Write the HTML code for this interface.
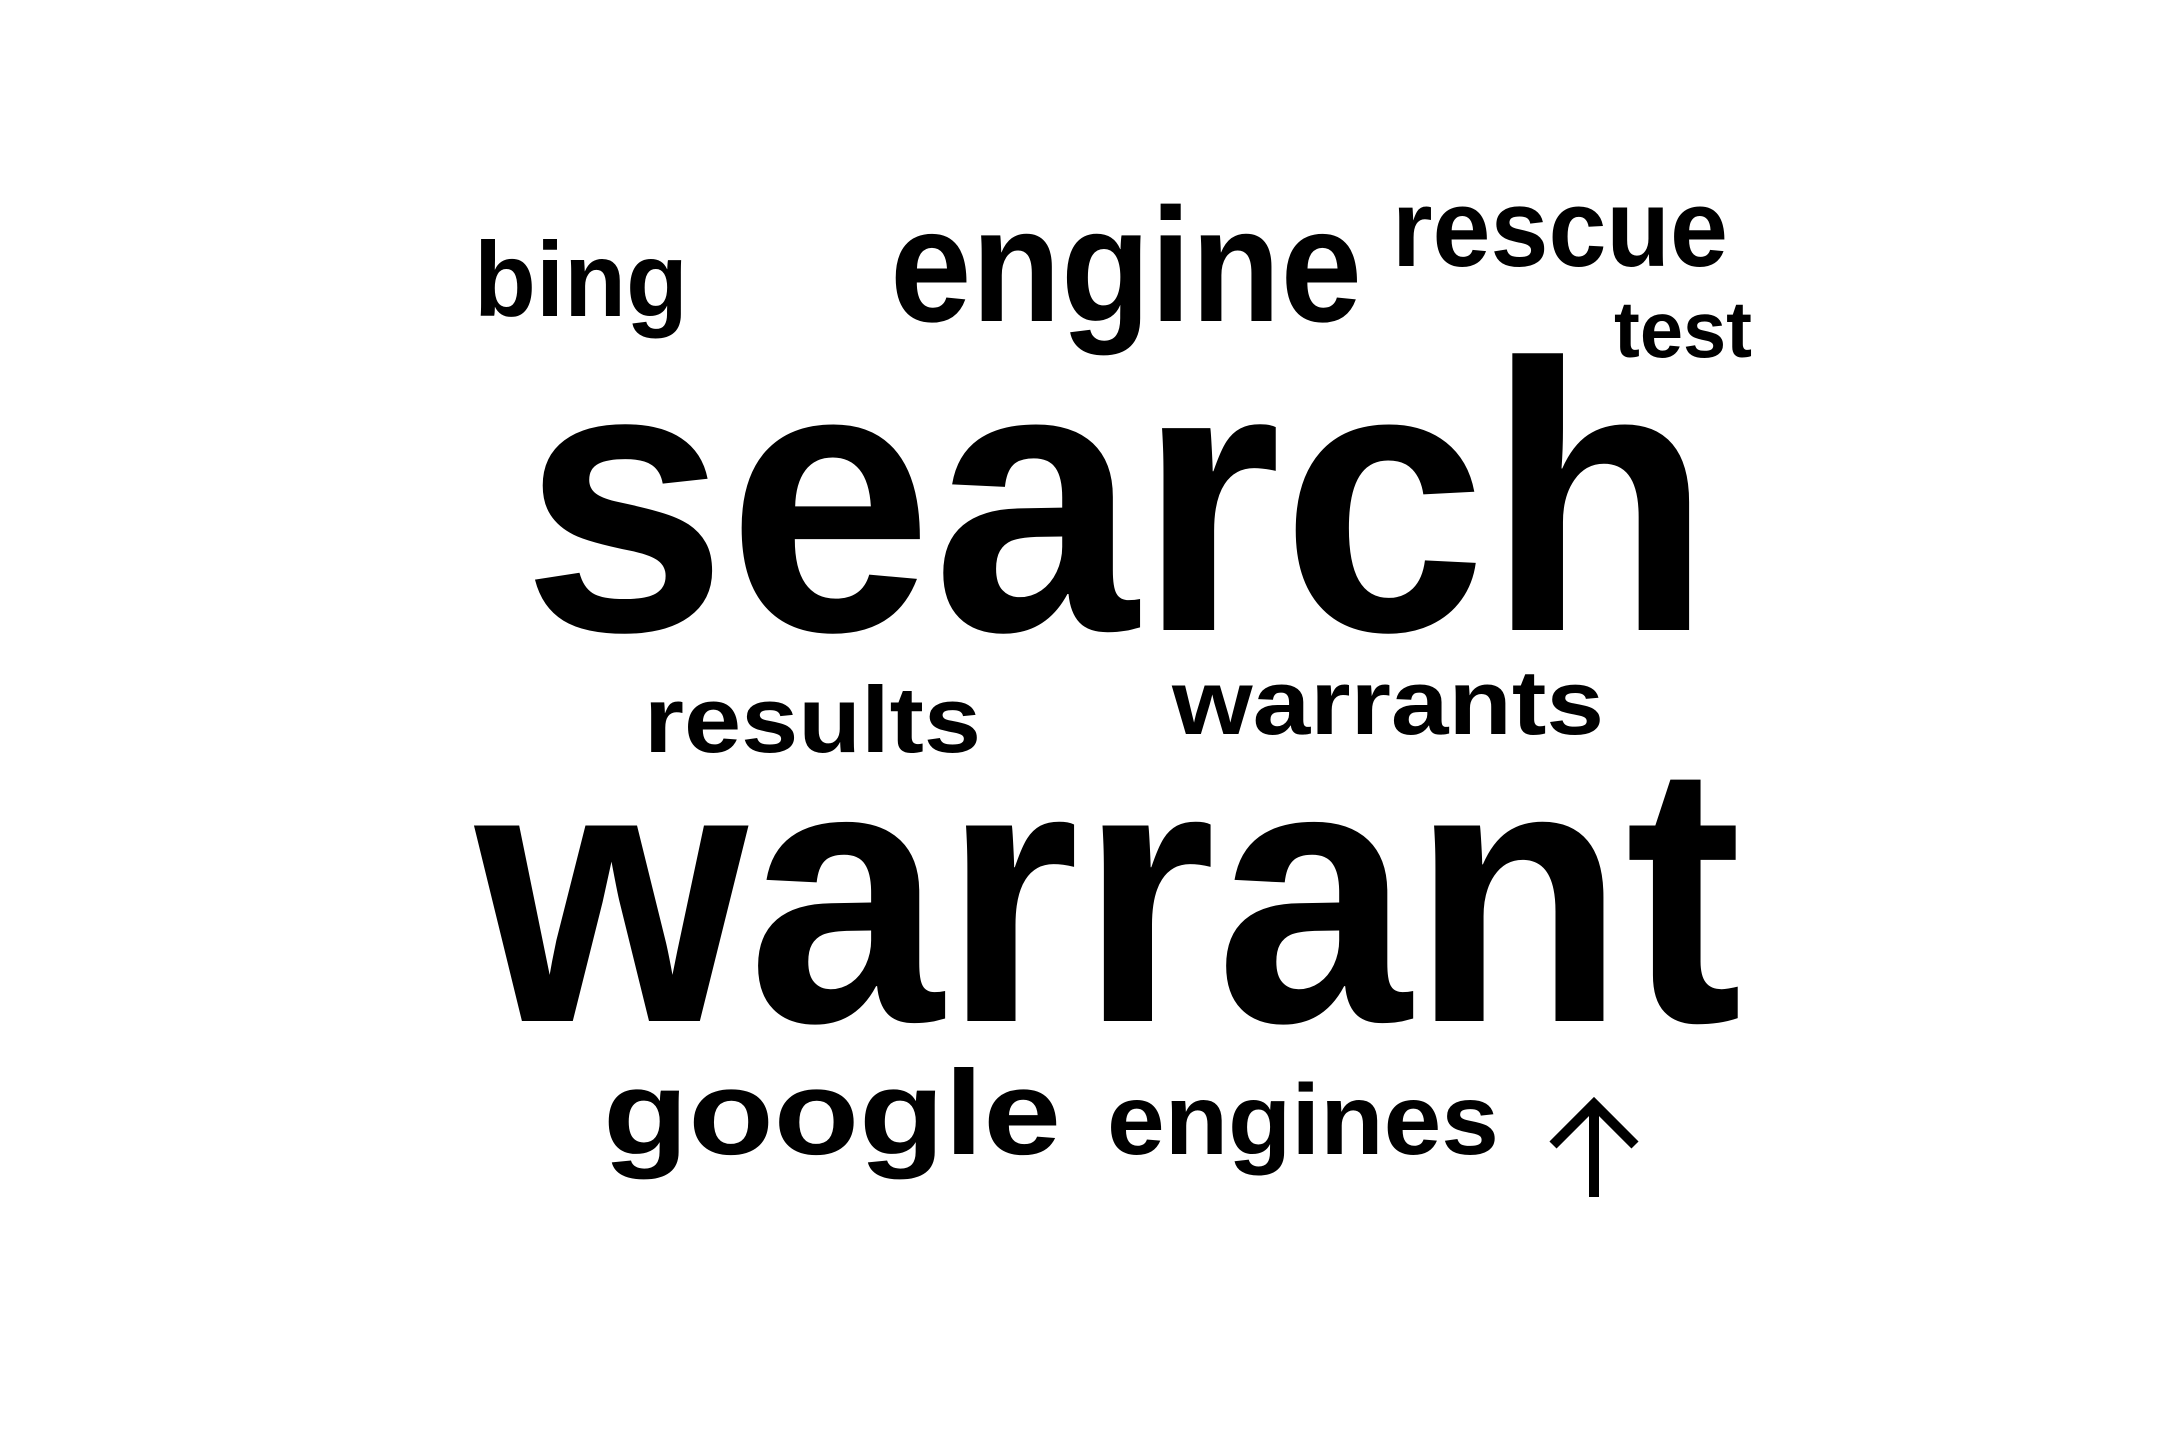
<!DOCTYPE html>
<html><head><meta charset="utf-8"><style>
html,body{margin:0;padding:0;background:#fff;}
svg{display:block;}
text{font-family:"Liberation Sans",sans-serif;font-weight:bold;fill:#000;}
</style></head><body>
<svg id="cloud" width="2160" height="1440" viewBox="0 0 2160 1440" xmlns="http://www.w3.org/2000/svg">
<rect width="2160" height="1440" fill="#fff"/>
<g stroke="#000" stroke-width="10" fill="none">
<line x1="1594" y1="1106" x2="1594" y2="1197"/>
<polyline points="1553,1145 1594,1104 1635,1145"/>
</g>
</svg>
<script>
const words = ["bing","engine","rescue","test","search","results","warrants","warrant","google","engines"];
const sizes = [106,162,110,80,382,94,92,370,120,100];
const xs = [474,890,1392,1614,522,644,1172,475,603,1107];
const ys = [316,321,266,357,630,752,734,1021,1154,1154];
const widths = [214,472,336,138,1190,337,432,1267,458,392];
const svg = document.getElementById('cloud');
for (let i = 0; i < words.length; i++) {
  const t = document.createElementNS('http://www.w3.org/2000/svg','text');
  t.setAttribute('x', xs[i]);
  t.setAttribute('y', ys[i]);
  t.setAttribute('font-size', sizes[i]);
  t.setAttribute('textLength', widths[i]);
  t.setAttribute('lengthAdjust', 'spacingAndGlyphs');
  t.textContent = words[i];
  
  
  svg.appendChild(t);
}
</script>
</body></html>
